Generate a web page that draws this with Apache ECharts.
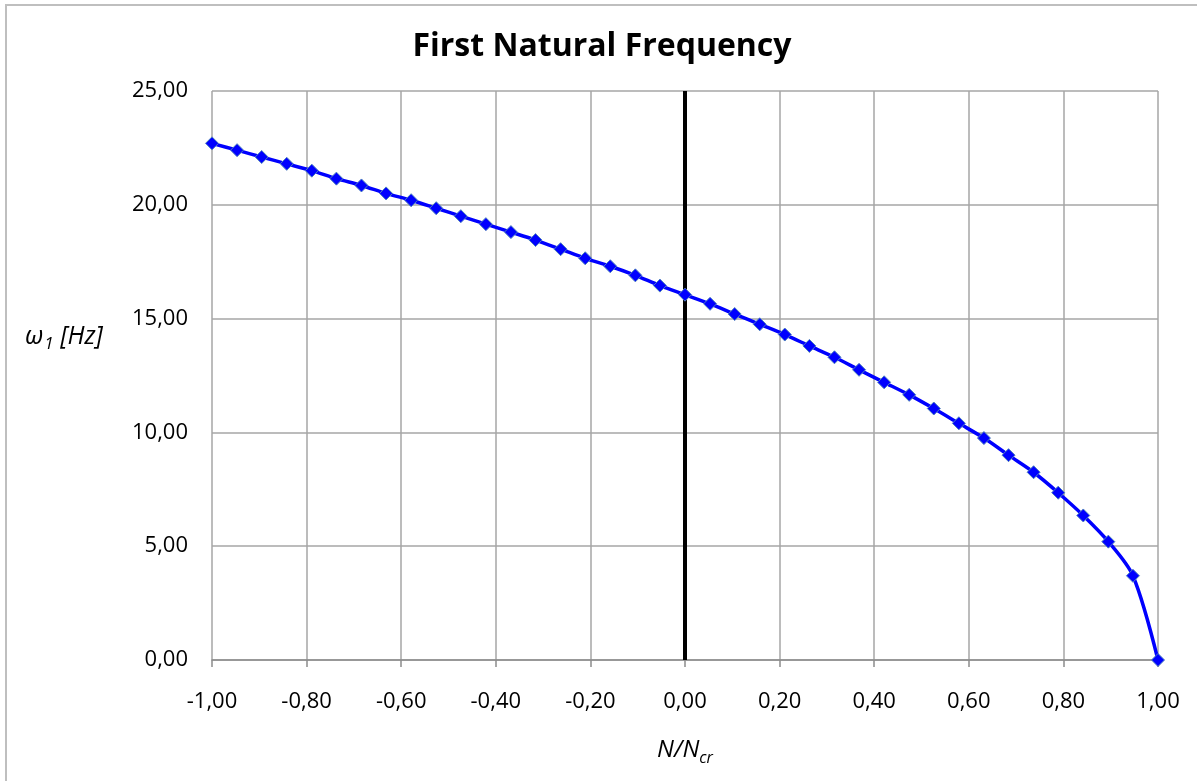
<!DOCTYPE html>
<html>
<head>
<meta charset="utf-8">
<script src="https://cdn.jsdelivr.net/npm/echarts@6/dist/echarts.min.js"></script>
<style>html,body{margin:0;padding:0;background:#fff}#c{width:1197px;height:781px}</style>
</head>
<body>
<div id="c"></div>
<script>
var xValues = [-1.000,-0.947,-0.895,-0.842,-0.789,-0.737,-0.684,-0.632,-0.579,-0.526,-0.474,-0.421,-0.368,-0.316,-0.263,-0.211,-0.158,-0.105,-0.053,0.000,0.053,0.105,0.158,0.211,0.263,0.316,0.368,0.421,0.474,0.526,0.579,0.632,0.684,0.737,0.789,0.842,0.895,0.947,1.000];
var omega1 = [22.70,22.40,22.10,21.80,21.50,21.15,20.85,20.50,20.20,19.85,19.50,19.15,18.80,18.45,18.05,17.65,17.30,16.90,16.45,16.05,15.65,15.20,14.75,14.30,13.80,13.30,12.75,12.20,11.65,11.05,10.40,9.75,9.00,8.25,7.35,6.35,5.20,3.70,0.00];
var zeroLine = [[0,0],[0,25]];

var font = '"Open Sans", "Noto Sans", sans-serif';
var fmt = function(v){ return v.toFixed(2).replace('.', ','); };
var richName = {
  n:{fontFamily:font, fontStyle:'italic', fontSize:24, color:'#000', lineHeight:32},
  s:{fontFamily:font, fontStyle:'italic', fontSize:16, color:'#000', verticalAlign:'bottom', lineHeight:19}
};
var richY = {
  n:{fontFamily:font, fontStyle:'italic', fontSize:25, color:'#000', lineHeight:32},
  s:{fontFamily:font, fontStyle:'italic', fontSize:17, color:'#000', verticalAlign:'bottom', lineHeight:19, padding:[0,0,0,1]}
};
var chart = echarts.init(document.getElementById('c'), null, {renderer:'canvas'});
chart.setOption({
  animation:false,
  backgroundColor:'#ffffff',
  graphic:[
    {type:'rect', shape:{x:6,y:5,width:1200,height:800}, style:{fill:'none', stroke:'#bfbfbf', lineWidth:2}, silent:true, z:-1},
    {type:'text', left:25, top:324, silent:true,
      style:{text:'{n|ω}{s|1}{n| [Hz]}', rich:richY}}
  ],
  title:{text:'First Natural Frequency', left:597, top:26, textAlign:'center',
    textStyle:{fontFamily:font, fontWeight:'bold', fontSize:32, color:'#000'}},
  grid:{left:212, right:39, top:91, bottom:121, containLabel:false},
  xAxis:{type:'value', min:-1, max:1, interval:0.2,
    axisLine:{show:true, onZero:false, lineStyle:{color:'#8c8c8c', width:1.5}},
    axisTick:{show:true, length:7, lineStyle:{color:'#8c8c8c', width:1.5}},
    splitLine:{show:true, lineStyle:{color:'#a6a6a6', width:1.5}},
    axisLabel:{formatter:fmt, fontFamily:font, fontSize:22, color:'#000', margin:31},
    name:'{n|N/N}{s|cr}', nameLocation:'middle', nameGap:74,
    nameTextStyle:{rich:richName}
  },
  yAxis:{type:'value', min:0, max:25, interval:5,
    axisLine:{show:false}, axisTick:{show:false},
    splitLine:{show:true, lineStyle:{color:'#a6a6a6', width:1.5}},
    axisLabel:{formatter:fmt, fontFamily:font, fontSize:22, color:'#000', margin:24}
  },
  series:[
    {type:'line', data:zeroLine, symbol:'none', silent:true, z:1,
      lineStyle:{color:'#000', width:4}},
    {type:'line', data:xValues.map(function(x,i){return [x, omega1[i]];}), smooth:0.3,
      symbol:'diamond', symbolSize:13, z:3,
      lineStyle:{color:'#0000ff', width:3.5},
      itemStyle:{color:'#0000ff', borderColor:'#4f81bd', borderWidth:1}}
  ]
});
</script>
</body>
</html>
